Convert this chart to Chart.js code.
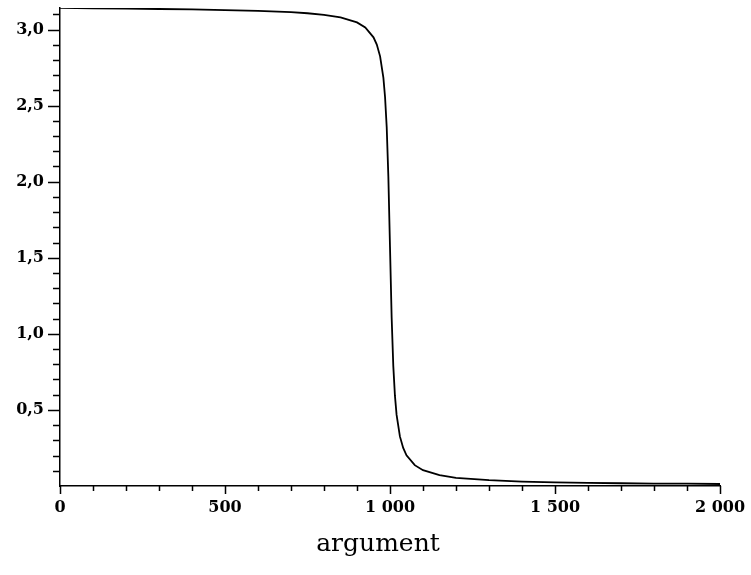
<!DOCTYPE html>
<html>
<head>
<meta charset="utf-8">
<script src="https://cdn.jsdelivr.net/npm/chart.js@4.4.0/dist/chart.umd.min.js"></script>
<style>
    html, body { margin: 0; padding: 0; background: #fff; }
    #wrap { width: 751px; height: 575px; }
</style>
</head>
<body>
<div id="wrap"><canvas id="plot" width="751" height="575"></canvas></div>
<script>
const argumentX = [0, 100, 200, 300, 400, 500, 600, 700, 750, 800, 850, 900, 925, 950, 960, 970, 980, 985, 990, 995,
    1000, 1005, 1010, 1015, 1020, 1030, 1040, 1050, 1075, 1100, 1150, 1200, 1300, 1400, 1500, 1600, 1700, 1800, 1900, 2000];
const phaseY = [3.142, 3.140, 3.137, 3.135, 3.132, 3.128, 3.123, 3.114, 3.107, 3.097, 3.080, 3.047, 3.014, 2.949, 2.901, 2.824, 2.682, 2.557, 2.359, 2.035,
    1.571, 1.108, 0.788, 0.592, 0.467, 0.326, 0.250, 0.202, 0.137, 0.104, 0.071, 0.054, 0.038, 0.029, 0.024, 0.021, 0.018, 0.016, 0.015, 0.013];

const xTicks = [0, 500, 1000, 1500, 2000];
const xTickLabels = ["0", "500", "1 000", "1 500", "2 000"];
const yTicks = [0.5, 1.0, 1.5, 2.0, 2.5, 3.0];
const yTickLabels = ["0,5", "1,0", "1,5", "2,0", "2,5", "3,0"];
const xMinorStep = 100, yMinorStep = 0.1;
const yMax = 3.1416;
const xTitle = "argument";

const tickFont = { family: "DejaVu Serif", size: 16, weight: "bold" };

// Maple-style tick marks (long at labels, short in between) and the axis caption
const axisExtras = {
    id: "axisExtras",
    afterDraw(chart) {
        const ctx = chart.ctx, xs = chart.scales.x, ys = chart.scales.y;
        const a = chart.chartArea;
        ctx.save();
        ctx.strokeStyle = "#000";
        ctx.lineWidth = 1.5;
        ctx.beginPath();
        for (let v = 0; v <= 2000 + 1e-6; v += xMinorStep) {
            const px = Math.round(xs.getPixelForValue(v)) + 0.5;
            const major = xTicks.some(t => Math.abs(t - v) < 1e-6);
            ctx.moveTo(px, a.bottom);
            ctx.lineTo(px, a.bottom + (major ? 8 : 5));
        }
        for (let v = yMinorStep; v < yMax; v += yMinorStep) {
            const py = Math.round(ys.getPixelForValue(v)) + 0.5;
            const major = yTicks.some(t => Math.abs(t - v) < 1e-6);
            ctx.moveTo(a.left, py);
            ctx.lineTo(a.left - (major ? 12 : 7), py);
        }
        ctx.stroke();

        ctx.fillStyle = "#000";
        ctx.font = "25px 'DejaVu Serif'";
        ctx.textAlign = "center";
        ctx.textBaseline = "alphabetic";
        ctx.fillText(xTitle, (a.left + a.right) / 2 - 12, 551);
        ctx.restore();
    }
};

new Chart(document.getElementById("plot"), {
    type: "line",
    data: {
        datasets: [{
            data: argumentX.map((x, i) => ({ x: x, y: phaseY[i] })),
            borderColor: "#000",
            borderWidth: 1.8,
            pointRadius: 0,
            tension: 0,
            fill: false
        }]
    },
    options: {
        responsive: false,
        animation: false,
        events: [],
        layout: { padding: { left: 0, top: 8, right: 31, bottom: 0 } },
        plugins: { legend: { display: false }, tooltip: { enabled: false } },
        scales: {
            x: {
                type: "linear",
                min: 0,
                max: 2000,
                afterBuildTicks: s => { s.ticks = xTicks.map(v => ({ value: v })); },
                afterFit: s => { s.height = 89; s.paddingLeft = 0; s.paddingRight = 0; },
                grid: { display: false, drawTicks: false },
                border: { display: true, color: "#000", width: 1.5 },
                ticks: {
                    color: "#000",
                    font: tickFont,
                    padding: 12,
                    maxRotation: 0,
                    autoSkip: false,
                    callback: (v) => xTickLabels[xTicks.indexOf(v)]
                }
            },
            y: {
                type: "linear",
                min: 0,
                max: yMax,
                afterBuildTicks: s => { s.ticks = yTicks.map(v => ({ value: v })); },
                afterFit: s => { s.width = 60; s.paddingTop = 0; s.paddingBottom = 0; },
                grid: { display: false, drawTicks: false },
                border: { display: true, color: "#000", width: 1.5 },
                ticks: {
                    color: "#000",
                    font: tickFont,
                    padding: 16,
                    autoSkip: false,
                    callback: (v) => yTickLabels[yTicks.indexOf(v)]
                }
            }
        }
    },
    plugins: [axisExtras]
});
</script>
</body>
</html>
